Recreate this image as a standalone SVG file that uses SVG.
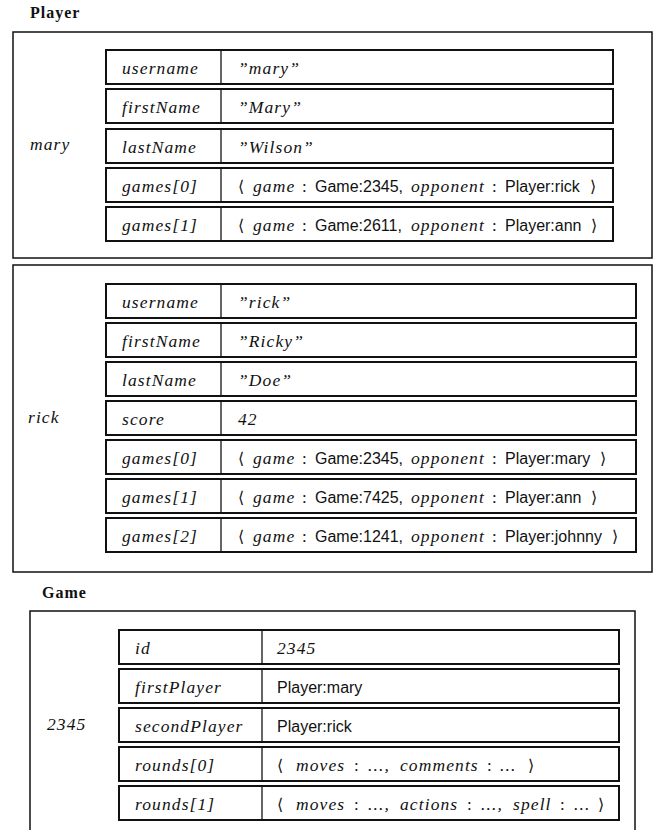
<svg xmlns="http://www.w3.org/2000/svg" width="655" height="830" viewBox="0 0 655 830">
<style>
.bg{fill:#fff}
.outer{fill:none;stroke:#111;stroke-width:1.5}
.row{fill:#fff;stroke:#111;stroke-width:2}
.div{stroke:#111;stroke-width:1.3}
.title{font-family:"Liberation Serif",serif;font-weight:bold;font-size:16px;letter-spacing:1px;fill:#111}
.it{font-family:"Liberation Serif",serif;font-style:italic;font-size:17.5px;letter-spacing:1.1px;fill:#111}
.sf{font-family:"Liberation Sans",sans-serif;font-size:16px;fill:#111}
.rm{font-family:"Liberation Serif",serif;font-size:17px;fill:#111}
.ang{font-family:"DejaVu Sans","DejaVu Serif",serif;font-size:16px;fill:#111}
</style>
<rect class="bg" x="0" y="0" width="655" height="830"/>
<text class="title" x="30" y="18">Player</text>
<g id="player-mary">
<rect class="outer" x="13" y="32" width="639" height="226"/>
<text class="it" x="30" y="150">mary</text>
<rect class="row" x="106" y="50" width="507" height="34"/><line class="div" x1="221" y1="50" x2="221" y2="84"/>
<text class="it" x="122" y="74">username</text><text class="it" x="238" y="74">”mary”</text>
<rect class="row" x="106" y="89" width="507" height="34"/><line class="div" x1="221" y1="89" x2="221" y2="123"/>
<text class="it" x="122" y="113">firstName</text><text class="it" x="238" y="113">”Mary”</text>
<rect class="row" x="106" y="129" width="507" height="34"/><line class="div" x1="221" y1="129" x2="221" y2="163"/>
<text class="it" x="122" y="153">lastName</text><text class="it" x="238" y="153">”Wilson”</text>
<rect class="row" x="106" y="168" width="507" height="34"/><line class="div" x1="221" y1="168" x2="221" y2="202"/>
<text class="it" x="122" y="192">games[0]</text>
<text y="192"><tspan class="ang" x="238">⟨</tspan><tspan class="it" x="253">game</tspan><tspan class="rm" x="302">:</tspan><tspan class="sf" x="315">Game:2345,</tspan><tspan class="it" x="411">opponent</tspan><tspan class="rm" x="492">:</tspan><tspan class="sf" x="505">Player:rick</tspan><tspan class="ang" x="590">⟩</tspan></text>
<rect class="row" x="106" y="207" width="507" height="34"/><line class="div" x1="221" y1="207" x2="221" y2="241"/>
<text class="it" x="122" y="231">games[1]</text>
<text y="231"><tspan class="ang" x="238">⟨</tspan><tspan class="it" x="253">game</tspan><tspan class="rm" x="302">:</tspan><tspan class="sf" x="315">Game:2611,</tspan><tspan class="it" x="411">opponent</tspan><tspan class="rm" x="492">:</tspan><tspan class="sf" x="505">Player:ann</tspan><tspan class="ang" x="591">⟩</tspan></text>
</g>
<g id="player-rick">
<rect class="outer" x="13" y="265" width="639" height="307"/>
<text class="it" x="28" y="423">rick</text>
<rect class="row" x="106" y="284" width="530" height="34"/><line class="div" x1="221" y1="284" x2="221" y2="318"/>
<text class="it" x="122" y="308">username</text><text class="it" x="238" y="308">”rick”</text>
<rect class="row" x="106" y="323" width="530" height="34"/><line class="div" x1="221" y1="323" x2="221" y2="357"/>
<text class="it" x="122" y="347">firstName</text><text class="it" x="238" y="347">”Ricky”</text>
<rect class="row" x="106" y="362" width="530" height="34"/><line class="div" x1="221" y1="362" x2="221" y2="396"/>
<text class="it" x="122" y="386">lastName</text><text class="it" x="238" y="386">”Doe”</text>
<rect class="row" x="106" y="401" width="530" height="34"/><line class="div" x1="221" y1="401" x2="221" y2="435"/>
<text class="it" x="122" y="425">score</text><text class="it" x="238" y="425">42</text>
<rect class="row" x="106" y="440" width="530" height="34"/><line class="div" x1="221" y1="440" x2="221" y2="474"/>
<text class="it" x="122" y="464">games[0]</text>
<text y="464"><tspan class="ang" x="238">⟨</tspan><tspan class="it" x="253">game</tspan><tspan class="rm" x="302">:</tspan><tspan class="sf" x="315">Game:2345,</tspan><tspan class="it" x="411">opponent</tspan><tspan class="rm" x="492">:</tspan><tspan class="sf" x="505">Player:mary</tspan><tspan class="ang" x="600">⟩</tspan></text>
<rect class="row" x="106" y="479" width="530" height="34"/><line class="div" x1="221" y1="479" x2="221" y2="513"/>
<text class="it" x="122" y="503">games[1]</text>
<text y="503"><tspan class="ang" x="238">⟨</tspan><tspan class="it" x="253">game</tspan><tspan class="rm" x="302">:</tspan><tspan class="sf" x="315">Game:7425,</tspan><tspan class="it" x="411">opponent</tspan><tspan class="rm" x="492">:</tspan><tspan class="sf" x="505">Player:ann</tspan><tspan class="ang" x="591">⟩</tspan></text>
<rect class="row" x="106" y="518" width="530" height="34"/><line class="div" x1="221" y1="518" x2="221" y2="552"/>
<text class="it" x="122" y="542">games[2]</text>
<text y="542"><tspan class="ang" x="238">⟨</tspan><tspan class="it" x="253">game</tspan><tspan class="rm" x="302">:</tspan><tspan class="sf" x="315">Game:1241,</tspan><tspan class="it" x="411">opponent</tspan><tspan class="rm" x="492">:</tspan><tspan class="sf" x="505">Player:johnny</tspan><tspan class="ang" x="612">⟩</tspan></text>
</g>
<text class="title" x="42" y="598">Game</text>
<g id="game-2345">
<path class="outer" d="M30 845 V611 H635 V845"/>
<text class="it" x="47" y="730">2345</text>
<rect class="row" x="119" y="630" width="500" height="34"/><line class="div" x1="262" y1="630" x2="262" y2="664"/>
<text class="it" x="135" y="654">id</text><text class="it" x="277" y="654">2345</text>
<rect class="row" x="119" y="669" width="500" height="34"/><line class="div" x1="262" y1="669" x2="262" y2="703"/>
<text class="it" x="135" y="693">firstPlayer</text><text class="sf" x="277" y="693">Player:mary</text>
<rect class="row" x="119" y="708" width="500" height="34"/><line class="div" x1="262" y1="708" x2="262" y2="742"/>
<text class="it" x="135" y="732">secondPlayer</text><text class="sf" x="277" y="732">Player:rick</text>
<rect class="row" x="119" y="747" width="500" height="34"/><line class="div" x1="262" y1="747" x2="262" y2="781"/>
<text class="it" x="135" y="771">rounds[0]</text>
<text y="771"><tspan class="ang" x="277">⟨</tspan><tspan class="it" x="296">moves</tspan><tspan class="rm" x="354">:</tspan><tspan class="it" x="368">...,</tspan><tspan class="it" x="400">comments</tspan><tspan class="rm" x="487">:</tspan><tspan class="it" x="500">...</tspan><tspan class="ang" x="528">⟩</tspan></text>
<rect class="row" x="119" y="786" width="500" height="34"/><line class="div" x1="262" y1="786" x2="262" y2="820"/>
<text class="it" x="135" y="810">rounds[1]</text>
<text y="810"><tspan class="ang" x="277">⟨</tspan><tspan class="it" x="296">moves</tspan><tspan class="rm" x="354">:</tspan><tspan class="it" x="368">...,</tspan><tspan class="it" x="400">actions</tspan><tspan class="rm" x="467">:</tspan><tspan class="it" x="481">...,</tspan><tspan class="it" x="513">spell</tspan><tspan class="rm" x="560">:</tspan><tspan class="it" x="574">...</tspan><tspan class="ang" x="598">⟩</tspan></text>
</g>
<g id="connectors"/>
</svg>
